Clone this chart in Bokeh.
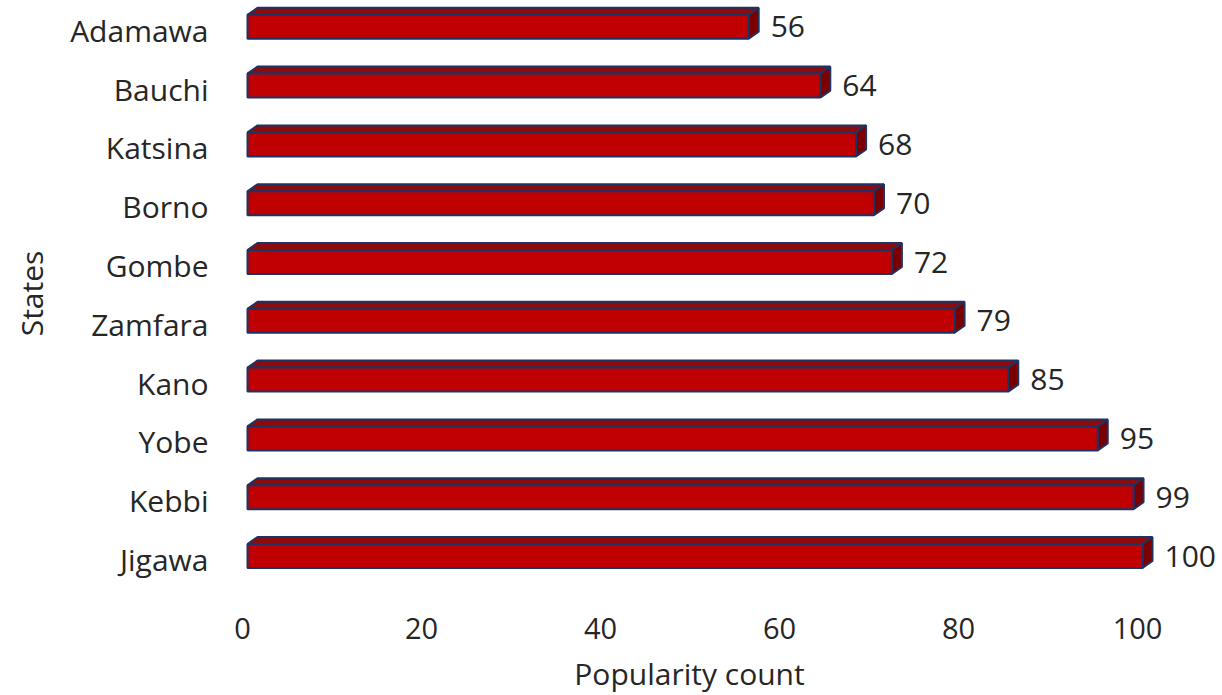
import math
from bokeh.plotting import figure
from bokeh.models import Range1d, ColumnDataSource
from bokeh.core.properties import value
from bokeh.embed import file_html
from bokeh.resources import INLINE

states = ["Jigawa", "Kebbi", "Yobe", "Kano", "Zamfara", "Gombe", "Borno", "Katsina", "Bauchi", "Adamawa"]
counts = [100, 99, 95, 85, 79, 72, 70, 68, 64, 56]
x_ticks = [0, 20, 40, 60, 80, 100]
x_title = "Popularity count"
y_title = "States"

FONT = "Open Sans"
TXT = "#262626"
W, H = 1222, 695

# screen geometry: pixels per data unit and pixel position of the data origin
PX_X = 8.95
PX_Y = 58.8
X0_PX, Y0_PX = 242, 559


def dx_(px):   # pixel column -> data x
    return (px - X0_PX) / PX_X


def dy_(px):   # pixel row -> data y
    return (Y0_PX - px) / PX_Y


p = figure(width=W, height=H, output_backend="svg", toolbar_location=None,
           x_range=Range1d(dx_(0), dx_(W)), y_range=Range1d(dy_(H), dy_(0)),
           x_axis_type=None, y_axis_type=None,
           min_border=0)
p.outline_line_color = None
p.grid.visible = False
p.background_fill_color = "white"
p.border_fill_color = "white"

# 3D bar geometry
off_x = 5 / PX_X          # front face start shift
off_y = 3.5 / PX_Y        # front face center shift upward
half_h = 12 / PX_Y
ddx = 10 / PX_X
ddy = 7 / PX_Y

front_xs, front_ys, top_xs, top_ys, side_xs, side_ys = [], [], [], [], [], []
for i, v in enumerate(counts):
    c = i + off_y
    xl, xr = off_x, v + off_x
    yb, yt = c - half_h, c + half_h
    front_xs.append([xl, xr, xr, xl]); front_ys.append([yb, yb, yt, yt])
    top_xs.append([xl, xr, xr + ddx, xl + ddx]); top_ys.append([yt, yt, yt + ddy, yt + ddy])
    side_xs.append([xr, xr + ddx, xr + ddx, xr]); side_ys.append([yb, yb + ddy, yt + ddy, yt])

OUT = "#1F3264"
p.patches(top_xs, top_ys, fill_color="#8E0B0B", line_color=OUT, line_width=2)
p.patches(side_xs, side_ys, fill_color="#7A0000", line_color=OUT, line_width=2)
p.patches(front_xs, front_ys, fill_color="#C00000", line_color=OUT, line_width=2)

# value labels
vsrc = ColumnDataSource(dict(x=[v + off_x + 22 / PX_X for v in counts],
                             y=[i + off_y for i in range(len(counts))],
                             t=[str(v) for v in counts]))
p.text(x="x", y="y", text="t", source=vsrc, text_font=value(FONT), text_font_size="30px",
       text_color=TXT, text_baseline="middle", text_align="left")

# category labels (y axis)
csrc = ColumnDataSource(dict(x=[dx_(208)] * len(states), y=list(range(len(states))), t=states))
p.text(x="x", y="y", text="t", source=csrc, text_font=value(FONT), text_font_size="30px",
       text_color=TXT, text_baseline="middle", text_align="right")

# x tick labels
tsrc = ColumnDataSource(dict(x=x_ticks, y=[dy_(628)] * len(x_ticks), t=[str(t) for t in x_ticks]))
p.text(x="x", y="y", text="t", source=tsrc, text_font=value(FONT), text_font_size="29px",
       text_color=TXT, text_baseline="middle", text_align="center")

# axis titles
p.text(x=[dx_(689)], y=[dy_(673)], text=[x_title], text_font=value(FONT), text_font_size="30px",
       text_color=TXT, text_baseline="middle", text_align="center")
p.text(x=[dx_(31)], y=[dy_(293)], text=[y_title], text_font=value(FONT), text_font_size="30px",
       text_color=TXT, text_baseline="middle", text_align="center", angle=math.pi / 2)

open("out.html", "w").write(file_html(p, INLINE))
